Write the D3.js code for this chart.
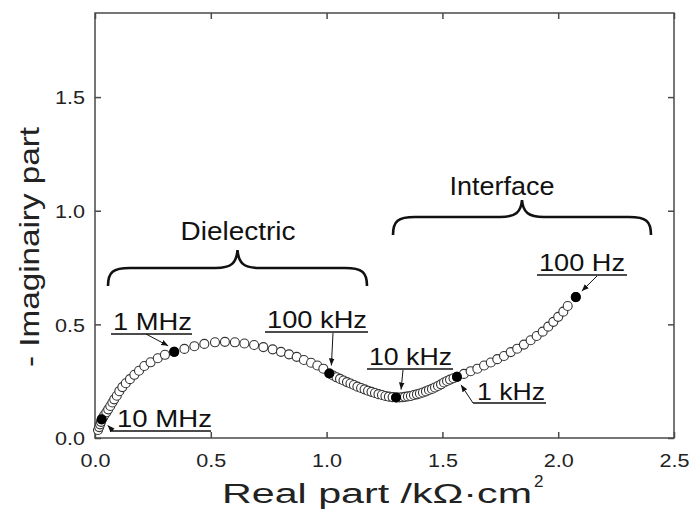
<!DOCTYPE html>
<html>
<head>
<meta charset="utf-8">
<script src="https://cdn.jsdelivr.net/npm/d3@7"></script>
<style>
  body { margin: 0; background: #fff; }
  svg { display: block; font-family: 'Liberation Sans', Arial, sans-serif; }
</style>
</head>
<body>
<svg id="chart" width="689" height="513"></svg>
<script>
// impedance spectrum (kOhm.cm2), highest frequency first
const zReal = [
  0.013, 0.018, 0.022, 0.026, 0.029,
  0.035, 0.040, 0.049, 0.057, 0.066, 0.075, 0.083, 0.094, 0.105, 0.118,
  0.133, 0.151, 0.170, 0.190, 0.213, 0.240, 0.271, 0.302, 0.342,
  0.386, 0.429, 0.472, 0.518, 0.561, 0.604, 0.645, 0.687, 0.727, 0.767,
  0.803, 0.838, 0.871, 0.902, 0.933, 0.960, 0.986, 1.012,
  1.028, 1.043, 1.058, 1.073, 1.088, 1.103, 1.118, 1.133, 1.149, 1.164,
  1.179, 1.194, 1.209, 1.224, 1.239, 1.254, 1.269, 1.285, 1.300,
  1.313, 1.326, 1.338, 1.351, 1.364, 1.377, 1.390, 1.403, 1.416, 1.429,
  1.442, 1.455, 1.468, 1.481, 1.494, 1.507, 1.520, 1.533, 1.548, 1.563,
  1.593, 1.622, 1.651, 1.680, 1.709, 1.737, 1.766, 1.795, 1.823, 1.852,
  1.881, 1.907, 1.933, 1.957, 1.979, 2.000, 2.022, 2.041, 2.076
];
const zImag = [
  0.035, 0.048, 0.060, 0.071, 0.082,
  0.091, 0.100, 0.113, 0.126, 0.141, 0.156, 0.170, 0.186, 0.206, 0.224,
  0.241, 0.259, 0.278, 0.296, 0.317, 0.333, 0.351, 0.366, 0.379,
  0.392, 0.404, 0.414, 0.421, 0.423, 0.421, 0.416, 0.409, 0.400, 0.390,
  0.379, 0.368, 0.357, 0.343, 0.331, 0.319, 0.305, 0.284,
  0.275, 0.267, 0.260, 0.253, 0.246, 0.240, 0.233, 0.226, 0.220, 0.214,
  0.208, 0.203, 0.198, 0.193, 0.189, 0.185, 0.182, 0.180, 0.178,
  0.178, 0.179, 0.181, 0.183, 0.185, 0.189, 0.192, 0.196, 0.200, 0.205,
  0.211, 0.216, 0.222, 0.229, 0.236, 0.244, 0.251, 0.257, 0.263, 0.269,
  0.282, 0.294, 0.305, 0.319, 0.332, 0.347, 0.361, 0.378, 0.393, 0.411,
  0.430, 0.449, 0.468, 0.490, 0.511, 0.533, 0.556, 0.581, 0.620
];

// decade frequencies (filled markers) and their index in the series
const decadeLabels = ['10 MHz', '1 MHz', '100 kHz', '10 kHz', '1 kHz', '100 Hz'];
const decadeIndex = [4, 23, 41, 60, 80, 99];

const xTicks = [0, 0.5, 1.0, 1.5, 2.0, 2.5];
const yTicks = [0, 0.5, 1.0, 1.5];

const regionLabels = ['Dielectric', 'Interface'];

const font = "'Liberation Sans', Arial, sans-serif";
const svg = d3.select('#chart');

const x = d3.scaleLinear().domain([0, 2.5]).range([95, 674]);
const y = d3.scaleLinear().domain([0, 1.87]).range([438, 13]);

const frameColor = '#4a4a4a';
const fmt = d3.format('.1f');

// axes, ticks pointing inward
const axisBottom = svg.append('g')
  .attr('transform', `translate(0,${y(0)})`)
  .call(d3.axisBottom(x).tickValues(xTicks).tickFormat(fmt).tickSizeInner(-6).tickSizeOuter(0));
axisBottom.selectAll('text').attr('y', 29).attr('dy', 0)
  .attr('textLength', 30).attr('lengthAdjust', 'spacingAndGlyphs');

const axisTop = svg.append('g')
  .attr('transform', `translate(0,${y.range()[1]})`)
  .call(d3.axisTop(x).tickValues(xTicks).tickFormat('').tickSizeInner(-6).tickSizeOuter(0));

const axisLeft = svg.append('g')
  .attr('transform', `translate(${x(0)},0)`)
  .call(d3.axisLeft(y).tickValues(yTicks).tickFormat(fmt).tickSizeInner(-6).tickSizeOuter(0).tickPadding(10));
axisLeft.selectAll('text').attr('dy', '0.36em')
  .attr('textLength', 30).attr('lengthAdjust', 'spacingAndGlyphs');

const axisRight = svg.append('g')
  .attr('transform', `translate(${x(2.5)},0)`)
  .call(d3.axisRight(y).tickValues(yTicks).tickFormat('').tickSizeInner(-6).tickSizeOuter(0));

[axisBottom, axisTop, axisLeft, axisRight].forEach(g => {
  g.select('.domain').remove();
  g.selectAll('line').attr('stroke', frameColor).attr('stroke-width', 1.5);
  g.selectAll('text').attr('font-family', font).attr('font-size', 19).attr('fill', '#222');
});

svg.append('rect')
  .attr('x', x(0)).attr('y', y.range()[1])
  .attr('width', x(2.5) - x(0)).attr('height', y(0) - y.range()[1])
  .attr('fill', 'none').attr('stroke', frameColor).attr('stroke-width', 1.5);

// axis titles
svg.append('text')
  .attr('x', 222).attr('y', 503)
  .attr('font-family', font).attr('font-size', 27).attr('fill', '#222')
  .attr('textLength', 310).attr('lengthAdjust', 'spacingAndGlyphs')
  .text('Real part /k\u03A9\u00B7cm');
svg.append('text')
  .attr('x', 534).attr('y', 487)
  .attr('font-family', font).attr('font-size', 17).attr('fill', '#222')
  .text('2');

svg.append('text')
  .attr('transform', 'translate(39,247) rotate(-90)')
  .attr('text-anchor', 'middle')
  .attr('font-family', font).attr('font-size', 28).attr('fill', '#222')
  .attr('textLength', 240).attr('lengthAdjust', 'spacingAndGlyphs')
  .text('- Imaginairy part');

// data points
const pts = zReal.map((d, i) => ({ re: d, im: zImag[i], i }));

svg.append('g')
  .selectAll('circle')
  .data(pts)
  .join('circle')
  .attr('cx', d => x(d.re))
  .attr('cy', d => y(d.im))
  .attr('r', 4.5)
  .attr('fill', '#fff')
  .attr('stroke', '#333')
  .attr('stroke-width', 1.1);

const marked = decadeIndex.map((idx, k) => ({ re: zReal[idx], im: zImag[idx], label: decadeLabels[k] }));

svg.append('g')
  .selectAll('circle')
  .data(marked)
  .join('circle')
  .attr('cx', d => x(d.re))
  .attr('cy', d => y(d.im))
  .attr('r', 5)
  .attr('fill', '#000');

// frequency call-outs: text, underline, arrow towards the filled point
svg.append('defs').append('marker')
  .attr('id', 'head')
  .attr('viewBox', '0 0 10 10')
  .attr('refX', 10).attr('refY', 5)
  .attr('markerWidth', 7).attr('markerHeight', 7)
  .attr('markerUnits', 'userSpaceOnUse')
  .attr('orient', 'auto')
  .append('path').attr('d', 'M0,1 L10,5 L0,9 Z').attr('fill', '#111');

const callouts = {
  '10 MHz':  { tx: 117, ty: 427, w: 95, ux0: 110, ux1: 211, uy: 431, from: [[113, 431]], dx: 6, dy: 6 },
  '1 MHz':   { tx: 113, ty: 330, w: 79, ux0: 111, ux1: 192, uy: 334, from: [[146, 334]], dx: -6, dy: -6 },
  '100 kHz': { tx: 267, ty: 328, w: 100, ux0: 265, ux1: 368, uy: 332, from: [[333, 333]], dx: 2, dy: -8 },
  '10 kHz':  { tx: 369, ty: 365, w: 83, ux0: 367, ux1: 453, uy: 369, from: [[403, 370]], dx: 5, dy: -8 },
  '1 kHz':   { tx: 477, ty: 400, w: 68, ux0: 473, ux1: 546, uy: 403, from: [[473, 403]], dx: 4, dy: 8 },
  '100 Hz':  { tx: 539, ty: 271, w: 86, ux0: 537, ux1: 627, uy: 275, from: [[597, 276]], dx: 6, dy: -6 }
};

const ann = svg.append('g');
marked.forEach(d => {
  const c = callouts[d.label];
  ann.append('text')
    .attr('x', c.tx).attr('y', c.ty)
    .attr('font-family', font).attr('font-size', 24).attr('fill', '#111')
    .attr('textLength', c.w).attr('lengthAdjust', 'spacingAndGlyphs')
    .text(d.label);
  ann.append('line')
    .attr('x1', c.ux0).attr('x2', c.ux1).attr('y1', c.uy).attr('y2', c.uy)
    .attr('stroke', '#111').attr('stroke-width', 1.6);
  const tip = [x(d.re) + c.dx, y(d.im) + c.dy];
  ann.append('path')
    .attr('d', d3.line()([...c.from, tip]))
    .attr('fill', 'none').attr('stroke', '#111').attr('stroke-width', 1)
    .attr('marker-end', 'url(#head)');
});

// curly braces over the two regions
function brace(x0, x1, yTip, yBar, yPeak) {
  const xm = (x0 + x1) / 2;
  const r = 16;
  return `M${x0},${yTip} C${x0},${yBar + 4} ${x0 + 5},${yBar} ${x0 + r + 6},${yBar}` +
    ` L${xm - r - 6},${yBar} C${xm - 6},${yBar} ${xm - 1},${yBar - 5} ${xm},${yPeak}` +
    ` C${xm + 1},${yBar - 5} ${xm + 6},${yBar} ${xm + r + 6},${yBar}` +
    ` L${x1 - r - 6},${yBar} C${x1 - 5},${yBar} ${x1},${yBar + 4} ${x1},${yTip}`;
}

const braces = [
  { x0: 108, x1: 367, yTip: 286, yBar: 268, yPeak: 250, tx: 238, ty: 240, w: 115 },
  { x0: 393, x1: 651, yTip: 235, yBar: 217, yPeak: 200, tx: 502, ty: 195, w: 105 }
];

braces.forEach((b, k) => {
  svg.append('path')
    .attr('d', brace(b.x0, b.x1, b.yTip, b.yBar, b.yPeak))
    .attr('fill', 'none').attr('stroke', '#111').attr('stroke-width', 2.6);
  svg.append('text')
    .attr('x', b.tx).attr('y', b.ty)
    .attr('text-anchor', 'middle')
    .attr('font-family', font).attr('font-size', 26).attr('fill', '#111')
    .attr('textLength', b.w).attr('lengthAdjust', 'spacingAndGlyphs')
    .text(regionLabels[k]);
});
</script>
</body>
</html>
